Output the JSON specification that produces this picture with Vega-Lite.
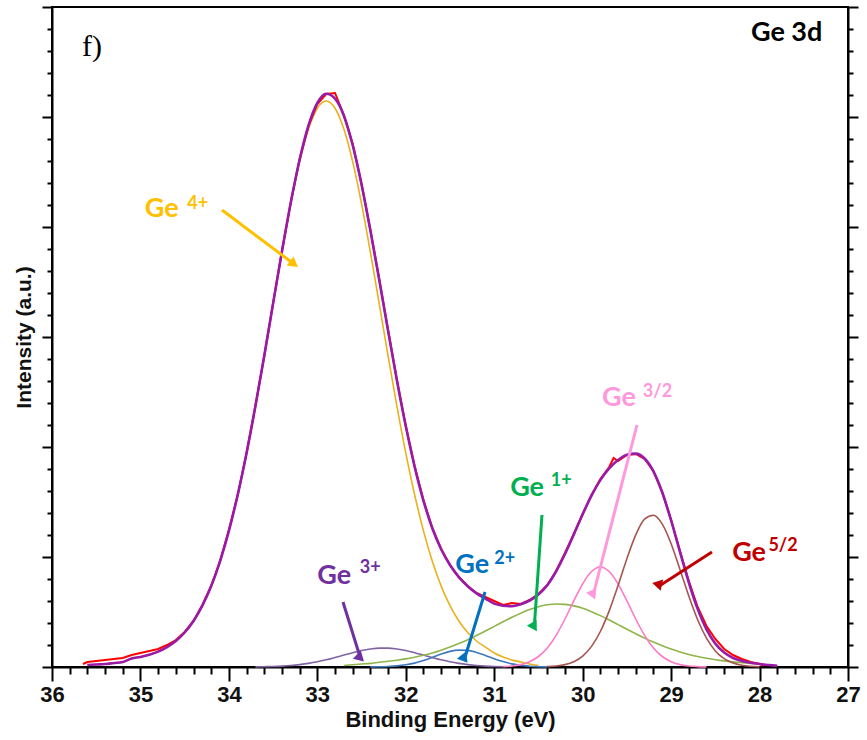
{
  "$schema": "https://vega.github.io/schema/vega-lite/v6.json",
  "width": 796,
  "height": 660,
  "autosize": {"type": "none"},
  "padding": {"left": 52, "top": 7, "right": 19, "bottom": 73},
  "background": "white",
  "config": {"view": {"stroke": "#000", "strokeWidth": 2}, "font": "Liberation Sans"},
  "datasets": {
    "comps": [
      {"be":35.6,"s":"4+","v":2},{"be":35.5,"s":"4+","v":2.5},{"be":35.4,"s":"4+","v":3},{"be":35.3,"s":"4+","v":4},{"be":35.2,"s":"4+","v":5},{"be":35.1,"s":"4+","v":8.5},{"be":35.0,"s":"4+","v":10.1},{"be":34.9,"s":"4+","v":12.3},{"be":34.8,"s":"4+","v":15.4},{"be":34.7,"s":"4+","v":19.9},{"be":34.6,"s":"4+","v":26.0},{"be":34.5,"s":"4+","v":34.5},{"be":34.4,"s":"4+","v":46.0},{"be":34.3,"s":"4+","v":61.3},{"be":34.2,"s":"4+","v":80.9},{"be":34.1,"s":"4+","v":105.7},{"be":34.0,"s":"4+","v":136.1},{"be":33.9,"s":"4+","v":172.3},{"be":33.8,"s":"4+","v":214.1},{"be":33.7,"s":"4+","v":260.7},{"be":33.6,"s":"4+","v":311.0},{"be":33.5,"s":"4+","v":363.1},{"be":33.4,"s":"4+","v":414.7},{"be":33.3,"s":"4+","v":463.1},{"be":33.2,"s":"4+","v":505.1},{"be":33.1,"s":"4+","v":537.9},{"be":33.0,"s":"4+","v":558.8},{"be":32.9,"s":"4+","v":566.0},{"be":32.8,"s":"4+","v":558.8},{"be":32.7,"s":"4+","v":537.9},{"be":32.6,"s":"4+","v":505.1},{"be":32.5,"s":"4+","v":463.1},{"be":32.4,"s":"4+","v":414.7},{"be":32.3,"s":"4+","v":363.1},{"be":32.2,"s":"4+","v":311.0},{"be":32.1,"s":"4+","v":260.7},{"be":32.0,"s":"4+","v":214.1},{"be":31.9,"s":"4+","v":172.3},{"be":31.8,"s":"4+","v":136.1},{"be":31.7,"s":"4+","v":105.7},{"be":31.6,"s":"4+","v":80.9},{"be":31.5,"s":"4+","v":61.3},{"be":31.4,"s":"4+","v":46.0},{"be":31.3,"s":"4+","v":34.5},{"be":31.2,"s":"4+","v":26.0},{"be":31.1,"s":"4+","v":19.9},{"be":31.0,"s":"4+","v":14},{"be":30.9,"s":"4+","v":10},{"be":30.8,"s":"4+","v":7},{"be":30.7,"s":"4+","v":5},{"be":30.6,"s":"4+","v":3},{"be":30.5,"s":"4+","v":1.5},
      {"be":33.7,"s":"3+","v":0.15},{"be":33.6,"s":"3+","v":0.3},{"be":33.5,"s":"3+","v":0.5},{"be":33.4,"s":"3+","v":0.9},{"be":33.3,"s":"3+","v":1.5},{"be":33.2,"s":"3+","v":2.4},{"be":33.1,"s":"3+","v":3.6},{"be":33.0,"s":"3+","v":5.2},{"be":32.9,"s":"3+","v":7.2},{"be":32.8,"s":"3+","v":9.5},{"be":32.7,"s":"3+","v":11.9},{"be":32.6,"s":"3+","v":14.3},{"be":32.5,"s":"3+","v":16.5},{"be":32.4,"s":"3+","v":18.0},{"be":32.3,"s":"3+","v":18.9},{"be":32.2,"s":"3+","v":18.9},{"be":32.1,"s":"3+","v":18.0},{"be":32.0,"s":"3+","v":16.5},{"be":31.9,"s":"3+","v":14.3},{"be":31.8,"s":"3+","v":11.9},{"be":31.7,"s":"3+","v":9.5},{"be":31.6,"s":"3+","v":7.2},{"be":31.5,"s":"3+","v":5.2},{"be":31.4,"s":"3+","v":3.6},{"be":31.3,"s":"3+","v":2.4},{"be":31.2,"s":"3+","v":1.5},{"be":31.1,"s":"3+","v":0.9},{"be":31.0,"s":"3+","v":0.5},{"be":30.9,"s":"3+","v":0.3},
      {"be":32.4,"s":"2+","v":0.1},{"be":32.3,"s":"2+","v":0.2},{"be":32.2,"s":"2+","v":0.5},{"be":32.1,"s":"2+","v":1.1},{"be":32.0,"s":"2+","v":2.2},{"be":31.9,"s":"2+","v":3.9},{"be":31.8,"s":"2+","v":6.5},{"be":31.7,"s":"2+","v":9.6},{"be":31.6,"s":"2+","v":12.9},{"be":31.5,"s":"2+","v":15.6},{"be":31.4,"s":"2+","v":16.9},{"be":31.3,"s":"2+","v":16.6},{"be":31.2,"s":"2+","v":14.6},{"be":31.1,"s":"2+","v":11.6},{"be":31.0,"s":"2+","v":8.3},{"be":30.9,"s":"2+","v":5.4},{"be":30.8,"s":"2+","v":3.1},{"be":30.7,"s":"2+","v":1.6},{"be":30.6,"s":"2+","v":0.8},{"be":30.5,"s":"2+","v":0.3},{"be":30.4,"s":"2+","v":0.1},
      {"be":32.7,"s":"1+","v":1.5},{"be":32.6,"s":"1+","v":2.3},{"be":32.5,"s":"1+","v":3.0},{"be":32.4,"s":"1+","v":3.6},{"be":32.3,"s":"1+","v":4.8},{"be":32.2,"s":"1+","v":5.7},{"be":32.1,"s":"1+","v":6.8},{"be":32.0,"s":"1+","v":8.1},{"be":31.9,"s":"1+","v":9.8},{"be":31.8,"s":"1+","v":11.7},{"be":31.7,"s":"1+","v":14.0},{"be":31.6,"s":"1+","v":16.8},{"be":31.5,"s":"1+","v":19.9},{"be":31.4,"s":"1+","v":23.4},{"be":31.3,"s":"1+","v":27.3},{"be":31.2,"s":"1+","v":31.5},{"be":31.1,"s":"1+","v":36.0},{"be":31.0,"s":"1+","v":40.6},{"be":30.9,"s":"1+","v":45.2},{"be":30.8,"s":"1+","v":49.7},{"be":30.7,"s":"1+","v":53.8},{"be":30.6,"s":"1+","v":57.4},{"be":30.5,"s":"1+","v":60.3},{"be":30.4,"s":"1+","v":62.2},{"be":30.3,"s":"1+","v":63.0},{"be":30.2,"s":"1+","v":62.6},{"be":30.1,"s":"1+","v":61.1},{"be":30.0,"s":"1+","v":58.7},{"be":29.9,"s":"1+","v":55.3},{"be":29.8,"s":"1+","v":51.4},{"be":29.7,"s":"1+","v":47.0},{"be":29.6,"s":"1+","v":42.4},{"be":29.5,"s":"1+","v":37.8},{"be":29.4,"s":"1+","v":33.3},{"be":29.3,"s":"1+","v":28.9},{"be":29.2,"s":"1+","v":24.9},{"be":29.1,"s":"1+","v":21.2},{"be":29.0,"s":"1+","v":18.0},{"be":28.9,"s":"1+","v":15.1},{"be":28.8,"s":"1+","v":12.6},{"be":28.7,"s":"1+","v":10.5},{"be":28.6,"s":"1+","v":8.7},{"be":28.5,"s":"1+","v":7.3},{"be":28.4,"s":"1+","v":6.1},{"be":28.3,"s":"1+","v":5.1},{"be":28.2,"s":"1+","v":4.4},{"be":28.1,"s":"1+","v":3.6},{"be":28.0,"s":"1+","v":2.8},{"be":27.9,"s":"1+","v":2.0},{"be":27.8,"s":"1+","v":1.2},
      {"be":30.9,"s":"3/2","v":0.4},{"be":30.8,"s":"3/2","v":1.0},{"be":30.7,"s":"3/2","v":2.4},{"be":30.6,"s":"3/2","v":5.3},{"be":30.5,"s":"3/2","v":10.5},{"be":30.4,"s":"3/2","v":19.1},{"be":30.3,"s":"3/2","v":31.7},{"be":30.2,"s":"3/2","v":48.0},{"be":30.1,"s":"3/2","v":66.2},{"be":30.0,"s":"3/2","v":83.2},{"be":29.9,"s":"3/2","v":95.5},{"be":29.8,"s":"3/2","v":100},{"be":29.7,"s":"3/2","v":95.5},{"be":29.6,"s":"3/2","v":83.2},{"be":29.5,"s":"3/2","v":66.2},{"be":29.4,"s":"3/2","v":48.0},{"be":29.3,"s":"3/2","v":31.7},{"be":29.2,"s":"3/2","v":19.1},{"be":29.1,"s":"3/2","v":10.5},{"be":29.0,"s":"3/2","v":5.3},{"be":28.9,"s":"3/2","v":2.4},{"be":28.8,"s":"3/2","v":1.0},{"be":28.7,"s":"3/2","v":0.4},{"be":28.6,"s":"3/2","v":0.1},
      {"be":30.4,"s":"5/2","v":0.4},{"be":30.3,"s":"5/2","v":1.0},{"be":30.2,"s":"5/2","v":2.4},{"be":30.1,"s":"5/2","v":5.3},{"be":30.0,"s":"5/2","v":10.9},{"be":29.9,"s":"5/2","v":20.6},{"be":29.8,"s":"5/2","v":35.5},{"be":29.7,"s":"5/2","v":56.1},{"be":29.6,"s":"5/2","v":81.4},{"be":29.5,"s":"5/2","v":108.3},{"be":29.4,"s":"5/2","v":132.1},{"be":29.3,"s":"5/2","v":147.9},{"be":29.2,"s":"5/2","v":151.7},{"be":29.1,"s":"5/2","v":142.8},{"be":29.0,"s":"5/2","v":123.3},{"be":28.9,"s":"5/2","v":97.6},{"be":28.8,"s":"5/2","v":70.9},{"be":28.7,"s":"5/2","v":47.2},{"be":28.6,"s":"5/2","v":28.8},{"be":28.5,"s":"5/2","v":16.1},{"be":28.4,"s":"5/2","v":8.3},{"be":28.3,"s":"5/2","v":3.9},{"be":28.2,"s":"5/2","v":1.7},{"be":28.1,"s":"5/2","v":0.7},{"be":28.0,"s":"5/2","v":0.25}
    ],
    "env": [
      {"be":35.6,"v":2},{"be":35.5,"v":2.5},{"be":35.4,"v":3},{"be":35.3,"v":4},{"be":35.2,"v":5},{"be":35.1,"v":8.5},{"be":35.0,"v":10.1},{"be":34.9,"v":12.3},{"be":34.8,"v":15.4},{"be":34.7,"v":19.9},{"be":34.6,"v":26.0},{"be":34.5,"v":34.5},{"be":34.4,"v":46.0},{"be":34.3,"v":61.3},{"be":34.2,"v":80.9},{"be":34.1,"v":105.7},{"be":34.0,"v":136.1},{"be":33.9,"v":172.3},{"be":33.8,"v":214.1},{"be":33.7,"v":260.9},{"be":33.6,"v":311.3},{"be":33.5,"v":363.6},{"be":33.4,"v":415.6},{"be":33.3,"v":464.6},{"be":33.2,"v":507.5},{"be":33.1,"v":541.5},{"be":33.0,"v":564.0},{"be":32.9,"v":573.2},{"be":32.8,"v":568.3},{"be":32.7,"v":551.3},{"be":32.6,"v":521.7},{"be":32.5,"v":482.6},{"be":32.4,"v":436.4},{"be":32.3,"v":387.0},{"be":32.2,"v":336.1},{"be":32.1,"v":286.6},{"be":32.0,"v":240.9},{"be":31.9,"v":200.3},{"be":31.8,"v":166.2},{"be":31.7,"v":138.8},{"be":31.6,"v":117.8},{"be":31.5,"v":102.0},{"be":31.4,"v":89.9},{"be":31.3,"v":80.8},{"be":31.2,"v":73.6},{"be":31.1,"v":68.4},{"be":31.0,"v":63.4},{"be":30.9,"v":61.3},{"be":30.8,"v":60.8},{"be":30.7,"v":62.8},{"be":30.6,"v":66.5},{"be":30.5,"v":72.6},{"be":30.4,"v":81.8},{"be":30.3,"v":95.7},{"be":30.2,"v":113.0},{"be":30.1,"v":132.6},{"be":30.0,"v":152.8},{"be":29.9,"v":171.4},{"be":29.8,"v":186.9},{"be":29.7,"v":198.6},{"be":29.6,"v":207.0},{"be":29.5,"v":212.3},{"be":29.4,"v":213.4},{"be":29.3,"v":208.5},{"be":29.2,"v":195.7},{"be":29.1,"v":174.5},{"be":29.0,"v":146.6},{"be":28.9,"v":115.1},{"be":28.8,"v":84.5},{"be":28.7,"v":58.1},{"be":28.6,"v":37.6},{"be":28.5,"v":23.4},{"be":28.4,"v":14.4},{"be":28.3,"v":9.0},{"be":28.2,"v":6.1},{"be":28.1,"v":4.3},{"be":28.0,"v":3.05},{"be":27.9,"v":2.0},{"be":27.8,"v":1.2}
    ],
    "raw": [
      {"be":35.65,"v":3},{"be":35.6,"v":5},{"be":35.5,"v":6},{"be":35.4,"v":7},{"be":35.3,"v":8},{"be":35.2,"v":9},{"be":35.1,"v":12},{"be":35.0,"v":14},{"be":34.9,"v":16},{"be":34.8,"v":18},{"be":34.7,"v":22},{"be":34.6,"v":27},{"be":34.5,"v":35},{"be":34.4,"v":46},{"be":34.3,"v":62},{"be":34.2,"v":81},{"be":34.1,"v":106},{"be":34.0,"v":137},{"be":33.9,"v":172},{"be":33.8,"v":214},{"be":33.7,"v":261},{"be":33.6,"v":311},{"be":33.5,"v":364},{"be":33.4,"v":416},{"be":33.3,"v":465},{"be":33.2,"v":508},{"be":33.1,"v":541},{"be":33.0,"v":563},{"be":32.9,"v":573},{"be":32.8,"v":574},{"be":32.7,"v":552},{"be":32.6,"v":523},{"be":32.5,"v":483},{"be":32.4,"v":437},{"be":32.3,"v":388},{"be":32.2,"v":337},{"be":32.1,"v":287},{"be":32.0,"v":241},{"be":31.9,"v":201},{"be":31.8,"v":167},{"be":31.7,"v":139},{"be":31.6,"v":118},{"be":31.5,"v":102},{"be":31.4,"v":90},{"be":31.3,"v":81},{"be":31.2,"v":74},{"be":31.1,"v":70},{"be":31.0,"v":66},{"be":30.9,"v":62},{"be":30.8,"v":64},{"be":30.7,"v":63},{"be":30.6,"v":67},{"be":30.5,"v":73},{"be":30.4,"v":82},{"be":30.3,"v":96},{"be":30.2,"v":114},{"be":30.1,"v":133},{"be":30.0,"v":153},{"be":29.9,"v":172},{"be":29.8,"v":188},{"be":29.7,"v":200},{"be":29.65,"v":209},{"be":29.6,"v":206},{"be":29.5,"v":212},{"be":29.4,"v":213},{"be":29.3,"v":208},{"be":29.2,"v":196},{"be":29.1,"v":175},{"be":29.0,"v":147},{"be":28.9,"v":116},{"be":28.8,"v":86},{"be":28.7,"v":60},{"be":28.6,"v":41},{"be":28.5,"v":28},{"be":28.4,"v":18},{"be":28.3,"v":12},{"be":28.2,"v":8},{"be":28.1,"v":5},{"be":28.0,"v":3},{"be":27.95,"v":1.5}
    ],
    "labels": [
      {"id":"4+","part":"ge","text":"Ge","x":34.95,"y":458},{"id":"4+","part":"sup","text":"4+","x":34.47,"y":463},
      {"id":"3+","part":"ge","text":"Ge","x":33.0,"y":91},{"id":"3+","part":"sup","text":"3+","x":32.52,"y":99},
      {"id":"2+","part":"ge","text":"Ge","x":31.44,"y":102},{"id":"2+","part":"sup","text":"2+","x":31.0,"y":108},
      {"id":"1+","part":"ge","text":"Ge","x":30.82,"y":179},{"id":"1+","part":"sup","text":"1+","x":30.36,"y":186},
      {"id":"3/2","part":"ge","text":"Ge","x":29.78,"y":269},{"id":"3/2","part":"sup","text":"3/2","x":29.32,"y":275},
      {"id":"5/2","part":"ge","text":"Ge","x":28.31,"y":114},{"id":"5/2","part":"sup","text":"5/2","x":27.9,"y":121}
    ],
    "arrows": [
      {"id":"4+","x0":34.078,"y0":457,"x1":33.264,"y1":403},
      {"id":"3+","x0":32.71,"y0":65,"x1":32.513,"y1":9},
      {"id":"2+","x0":31.104,"y0":75,"x1":31.336,"y1":8},
      {"id":"1+","x0":30.46,"y0":152,"x1":30.547,"y1":40},
      {"id":"3/2","x0":29.386,"y0":242,"x1":29.881,"y1":72},
      {"id":"5/2","x0":28.538,"y0":115,"x1":29.135,"y1":81}
    ],
    "notes": [
      {"t":"f)","x":35.66,"y":620},
      {"t":"Ge 3d","x":27.29,"y":634}
    ]
  },
  "resolve": {"axis": {"x": "independent", "y": "independent"}, "scale": {"color": "independent", "angle": "independent"}},
  "layer": [
    {
      "data": {"name": "comps"},
      "mark": {"type": "line", "strokeWidth": 1.6, "interpolate": "monotone"},
      "encoding": {
        "x": {"field": "be", "type": "quantitative", "scale": {"domain": [27, 36], "reverse": true, "nice": false, "zero": false},
          "axis": {"orient": "bottom", "values": [27,28,29,30,31,32,33,34,35,36], "format": "d", "tickSize": 14, "tickWidth": 2, "tickColor": "#000", "domain": true, "domainWidth": 2, "domainColor": "#000", "grid": false, "labelFont": "Liberation Sans", "labelFontWeight": "bold", "labelFontSize": 22, "labelColor": "#111", "labelPadding": 3, "labelFlush": false, "labelOverlap": false, "labelBound": false, "title": "Binding Energy (eV)", "titleFont": "Liberation Sans", "titleFontWeight": "bold", "titleFontSize": 22, "titleColor": "#111", "titlePadding": 4}},
        "y": {"field": "v", "type": "quantitative", "scale": {"domain": [0, 660], "nice": false, "zero": true},
          "axis": {"orient": "left", "values": [0,110,220,330,440,550,660], "tickSize": 10, "tickWidth": 2, "tickColor": "#000", "domain": true, "domainWidth": 2, "domainColor": "#000", "grid": false, "labels": false, "title": "Intensity (a.u.)", "titleFont": "Liberation Sans", "titleFontWeight": "bold", "titleFontSize": 21, "titleColor": "#111", "titlePadding": 7}},
        "color": {"field": "s", "type": "nominal", "legend": null,
          "scale": {"domain": ["4+","3+","2+","1+","3/2","5/2"], "range": ["#EBB11C","#8064A2","#3D78BD","#8FB54A","#FF79C6","#A65550"]}}
      }
    },
    {
      "data": {"name": "raw"},
      "mark": {"type": "line", "strokeWidth": 2, "color": "#FF0000"},
      "encoding": {
        "x": {"field": "be", "type": "quantitative", "scale": {"domain": [27, 36], "reverse": true, "nice": false, "zero": false},
          "axis": {"orient": "bottom", "values": [27.2,27.4,27.6,27.8,28.2,28.4,28.6,28.8,29.2,29.4,29.6,29.8,30.2,30.4,30.6,30.8,31.2,31.4,31.6,31.8,32.2,32.4,32.6,32.8,33.2,33.4,33.6,33.8,34.2,34.4,34.6,34.8,35.2,35.4,35.6,35.8], "tickSize": 7, "tickWidth": 2, "tickColor": "#000", "labels": false, "domain": false, "grid": false, "title": null}},
        "y": {"field": "v", "type": "quantitative", "scale": {"domain": [0, 660], "nice": false, "zero": true},
          "axis": {"orient": "left", "values": [22,44,66,88,132,154,176,198,242,264,286,308,352,374,396,418,462,484,506,528,572,594,616,638], "tickSize": 5, "tickWidth": 2, "tickColor": "#000", "labels": false, "domain": false, "grid": false, "title": null}}
      }
    },
    {
      "data": {"name": "env"},
      "mark": {"type": "line", "strokeWidth": 2.6, "color": "#9A1AA8", "interpolate": "monotone"},
      "encoding": {
        "x": {"field": "be", "type": "quantitative", "scale": {"domain": [27, 36], "reverse": true, "nice": false, "zero": false}, "axis": null},
        "y": {"field": "v", "type": "quantitative", "scale": {"domain": [0, 660], "nice": false, "zero": true},
          "axis": {"orient": "right", "values": [0,110,220,330,440,550,660], "tickSize": 10, "tickWidth": 2, "tickColor": "#000", "domain": true, "domainWidth": 2, "domainColor": "#000", "labels": false, "grid": false, "title": null}}
      }
    },
    {
      "data": {"name": "arrows"},
      "mark": {"type": "rule", "strokeWidth": 3},
      "encoding": {
        "x": {"field": "x0", "type": "quantitative", "scale": {"domain": [27, 36], "reverse": true, "nice": false, "zero": false}, "axis": null},
        "y": {"field": "y0", "type": "quantitative", "scale": {"domain": [0, 660], "nice": false, "zero": true}, "axis": null},
        "x2": {"field": "x1"},
        "y2": {"field": "y1"},
        "color": {"field": "id", "type": "nominal", "legend": null,
          "scale": {"domain": ["4+","3+","2+","1+","3/2","5/2"], "range": ["#FFC000","#7030A0","#0070C0","#00B050","#FF99DD","#C00000"]}}
      }
    },
    {
      "data": {"name": "arrows"},
      "mark": {"type": "point", "shape": "triangle-up", "filled": true, "size": 130, "opacity": 1},
      "encoding": {
        "x": {"field": "x1", "type": "quantitative", "scale": {"domain": [27, 36], "reverse": true, "nice": false, "zero": false}, "axis": null},
        "y": {"field": "y1", "type": "quantitative", "scale": {"domain": [0, 660], "nice": false, "zero": true}, "axis": null},
        "angle": {"field": "id", "type": "nominal", "legend": null, "scale": {"domain": ["4+","3+","2+","1+","3/2","5/2"], "range": [127,163,197,184,194,237]}},
        "color": {"field": "id", "type": "nominal", "legend": null,
          "scale": {"domain": ["4+","3+","2+","1+","3/2","5/2"], "range": ["#FFC000","#7030A0","#0070C0","#00B050","#FF99DD","#C00000"]}}
      }
    },
    {
      "data": {"name": "labels"},
      "transform": [{"filter": "datum.part === 'ge'"}],
      "mark": {"type": "text", "font": "Lato", "fontWeight": "bold", "fontSize": 27, "align": "left", "baseline": "middle"},
      "encoding": {
        "x": {"field": "x", "type": "quantitative", "scale": {"domain": [27, 36], "reverse": true, "nice": false, "zero": false}, "axis": null},
        "y": {"field": "y", "type": "quantitative", "scale": {"domain": [0, 660], "nice": false, "zero": true}, "axis": null},
        "text": {"field": "text"},
        "color": {"field": "id", "type": "nominal", "legend": null,
          "scale": {"domain": ["4+","3+","2+","1+","3/2","5/2"], "range": ["#FFC000","#7030A0","#0070C0","#00B050","#FF99DD","#C00000"]}}
      }
    },
    {
      "data": {"name": "labels"},
      "transform": [{"filter": "datum.part === 'sup'"}],
      "mark": {"type": "text", "font": "Lato", "fontWeight": "bold", "fontSize": 18, "align": "left", "baseline": "middle"},
      "encoding": {
        "x": {"field": "x", "type": "quantitative", "scale": {"domain": [27, 36], "reverse": true, "nice": false, "zero": false}, "axis": null},
        "y": {"field": "y", "type": "quantitative", "scale": {"domain": [0, 660], "nice": false, "zero": true},
          "axis": {"orient": "right", "values": [22,44,66,88,132,154,176,198,242,264,286,308,352,374,396,418,462,484,506,528,572,594,616,638], "tickSize": 5, "tickWidth": 2, "tickColor": "#000", "labels": false, "domain": false, "grid": false, "title": null}},
        "text": {"field": "text"},
        "color": {"field": "id", "type": "nominal", "legend": null,
          "scale": {"domain": ["4+","3+","2+","1+","3/2","5/2"], "range": ["#FFC000","#7030A0","#0070C0","#00B050","#FF99DD","#C00000"]}}
      }
    },
    {
      "data": {"name": "notes"},
      "transform": [{"filter": "datum.t === 'f)'"}],
      "mark": {"type": "text", "font": "Liberation Serif", "fontSize": 30, "align": "left", "baseline": "middle", "color": "#000"},
      "encoding": {
        "x": {"field": "x", "type": "quantitative", "scale": {"domain": [27, 36], "reverse": true, "nice": false, "zero": false}, "axis": null},
        "y": {"field": "y", "type": "quantitative", "scale": {"domain": [0, 660], "nice": false, "zero": true}, "axis": null},
        "text": {"field": "t"}
      }
    },
    {
      "data": {"name": "notes"},
      "transform": [{"filter": "datum.t === 'Ge 3d'"}],
      "mark": {"type": "text", "font": "Lato", "fontWeight": "bold", "fontSize": 27, "align": "right", "baseline": "middle", "color": "#000"},
      "encoding": {
        "x": {"field": "x", "type": "quantitative", "scale": {"domain": [27, 36], "reverse": true, "nice": false, "zero": false}, "axis": null},
        "y": {"field": "y", "type": "quantitative", "scale": {"domain": [0, 660], "nice": false, "zero": true}, "axis": null},
        "text": {"field": "t"}
      }
    }
  ]
}
